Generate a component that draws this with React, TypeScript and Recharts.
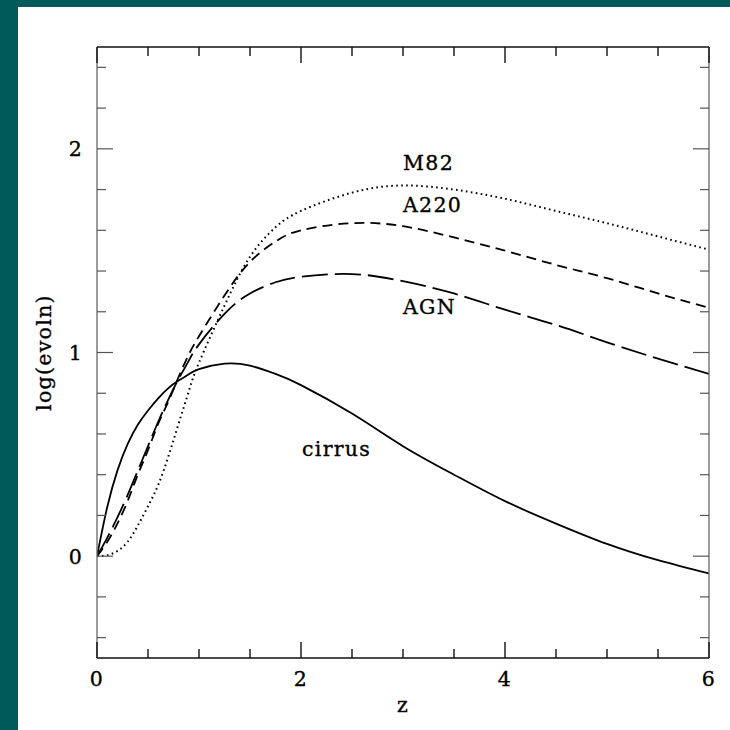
import React from 'react';
import { LineChart, Line, XAxis, YAxis, ReferenceDot } from 'recharts';

// Redshift grid shared by every evolution curve
const z = [0, 0.1, 0.2, 0.3, 0.4, 0.5, 0.6, 0.7, 0.8, 0.9, 1.0, 1.25, 1.5, 1.75, 2.0, 2.5, 3.0, 3.5, 4.0, 4.5, 5.0, 5.5, 6.0];

// log(evoln) for each template
const cirrus = [0, 0.24, 0.42, 0.55, 0.645, 0.715, 0.775, 0.825, 0.862, 0.893, 0.918, 0.945, 0.935, 0.895, 0.84, 0.70, 0.54, 0.40, 0.27, 0.16, 0.06, -0.02, -0.085];
const m82 = [0, 0.005, 0.025, 0.07, 0.15, 0.245, 0.35, 0.49, 0.65, 0.81, 0.95, 1.23, 1.47, 1.615, 1.695, 1.785, 1.82, 1.80, 1.755, 1.695, 1.635, 1.57, 1.505];
const a220 = [0, 0.07, 0.16, 0.27, 0.40, 0.52, 0.65, 0.76, 0.88, 0.99, 1.08, 1.28, 1.445, 1.545, 1.60, 1.635, 1.62, 1.565, 1.50, 1.43, 1.365, 1.29, 1.22];
const agn = [0, 0.09, 0.19, 0.30, 0.42, 0.54, 0.66, 0.77, 0.87, 0.96, 1.04, 1.19, 1.29, 1.345, 1.372, 1.385, 1.35, 1.29, 1.21, 1.135, 1.05, 0.97, 0.895];

// Axis ticks
const xTicks = [0, 0.5, 1, 1.5, 2, 2.5, 3, 3.5, 4, 4.5, 5, 5.5, 6];
const xLabels = [0, 2, 4, 6];
const yTicks = [-0.4, -0.2, 0, 0.2, 0.4, 0.6, 0.8, 1, 1.2, 1.4, 1.6, 1.8, 2, 2.2, 2.4];
const yLabels = [0, 1, 2];

// Curve name annotations: [text, z, log(evoln)]
const curveLabels: [string, number, number][] = [
  ['M82', 3.0, 1.897],
  ['A220', 3.0, 1.69],
  ['AGN', 3.0, 1.19],
  ['cirrus', 2.01, 0.49],
];

const rows = z.map((zv, i) => ({ z: zv, cirrus: cirrus[i], m82: m82[i], a220: a220[i], agn: agn[i] }));

const FONT = '"DejaVu Serif", "Liberation Serif", serif';
const textStyle = {
  fontFamily: FONT,
  fontSize: 20.5,
  letterSpacing: 1.3,
  fill: '#000',
  stroke: '#000',
  strokeWidth: 0.35,
};

const near = (a: number, list: number[]) => list.some((v) => Math.abs(v - a) < 1e-6);

type Side = 'bottom' | 'top' | 'left' | 'right';

function AxisTick(props: any) {
  const { x, y, payload, side } = props as { x: number; y: number; payload: { value: number }; side: Side };
  const v = payload.value;
  const horiz = side === 'bottom' || side === 'top';
  const major = horiz ? near(v, xLabels) : near(v, yLabels);
  const len = major ? 16 : 9;
  let line;
  if (side === 'bottom') line = <line x1={x} y1={y} x2={x} y2={y - len} />;
  else if (side === 'top') line = <line x1={x} y1={y} x2={x} y2={y + len} />;
  else if (side === 'left') line = <line x1={x} y1={y} x2={x + len} y2={y} />;
  else line = <line x1={x} y1={y} x2={x - len} y2={y} />;
  let label = null;
  if (side === 'bottom' && major) {
    label = (
      <text x={x} y={y + 21} dy="0.36em" textAnchor="middle" style={textStyle}>
        {String(v)}
      </text>
    );
  } else if (side === 'left' && major) {
    label = (
      <text x={x - 14} y={y} dy="0.36em" textAnchor="end" style={textStyle}>
        {String(v)}
      </text>
    );
  }
  return (
    <g>
      <g stroke={horiz ? '#111' : '#555'} strokeWidth={horiz ? 1.4 : 1.2}>{line}</g>
      {label}
    </g>
  );
}

const tickFor = (side: Side) => (p: any) => <AxisTick {...p} side={side} />;

export default function App() {
  return (
    <div style={{ position: 'fixed', left: 0, top: 0, width: 730, height: 730, background: '#005a5a' }}>
      <div style={{ position: 'absolute', left: 18, top: 7, width: 712, height: 723, background: '#fff' }} />
      <div style={{ position: 'absolute', left: 0, top: 0 }}>
        <LineChart width={730} height={730} data={rows} margin={{ left: 67, right: 11, top: 37, bottom: 42 }}>
          <XAxis
            xAxisId="b"
            dataKey="z"
            type="number"
            domain={[0, 6]}
            ticks={xTicks}
            interval={0}
            orientation="bottom"
            height={30}
            tickSize={0}
            tickMargin={0}
            tickLine={false}
            axisLine={{ stroke: '#111', strokeWidth: 1.6 }}
            tick={tickFor('bottom')}
            allowDataOverflow
            label={{
              content: (lp: any) => {
                const vb = lp.viewBox || {};
                return (
                  <text x={vb.x + vb.width / 2} y={712} textAnchor="middle" style={textStyle}>
                    z
                  </text>
                );
              },
            }}
          />
          <XAxis
            xAxisId="t"
            dataKey="z"
            type="number"
            domain={[0, 6]}
            ticks={xTicks}
            interval={0}
            orientation="top"
            height={10}
            tickSize={0}
            tickMargin={0}
            tickLine={false}
            axisLine={{ stroke: '#111', strokeWidth: 1.6 }}
            tick={tickFor('top')}
            allowDataOverflow
          />
          <YAxis
            yAxisId="l"
            type="number"
            domain={[-0.5, 2.5]}
            ticks={yTicks}
            interval={0}
            orientation="left"
            width={30}
            tickSize={0}
            tickMargin={0}
            tickLine={false}
            axisLine={{ stroke: '#666', strokeWidth: 1.3 }}
            tick={tickFor('left')}
            allowDataOverflow
            label={{
              content: (lp: any) => {
                const vb = lp.viewBox || {};
                const cy = vb.y + vb.height / 2;
                return (
                  <text
                    x={51}
                    y={cy}
                    transform={`rotate(-90 51 ${cy})`}
                    textAnchor="middle"
                    style={textStyle}
                  >
                    log(evoln)
                  </text>
                );
              },
            }}
          />
          <YAxis
            yAxisId="r"
            type="number"
            domain={[-0.5, 2.5]}
            ticks={yTicks}
            interval={0}
            orientation="right"
            width={10}
            tickSize={0}
            tickMargin={0}
            tickLine={false}
            axisLine={{ stroke: '#666', strokeWidth: 1.3 }}
            tick={tickFor('right')}
            allowDataOverflow
          />
          <Line xAxisId="b" yAxisId="l" type="natural" dataKey="cirrus" stroke="#000" strokeWidth={1.8} dot={false} isAnimationActive={false} />
          <Line xAxisId="b" yAxisId="l" type="natural" dataKey="m82" stroke="#000" strokeWidth={2} strokeDasharray="1.6 3.4" dot={false} isAnimationActive={false} />
          <Line xAxisId="b" yAxisId="l" type="natural" dataKey="a220" stroke="#000" strokeWidth={1.8} strokeDasharray="10 6" dot={false} isAnimationActive={false} />
          <Line xAxisId="b" yAxisId="l" type="natural" dataKey="agn" stroke="#000" strokeWidth={1.8} strokeDasharray="26 7" dot={false} isAnimationActive={false} />
          {curveLabels.map(([name, lx, ly]) => (
            <ReferenceDot
              key={name}
              xAxisId="b"
              yAxisId="l"
              x={lx}
              y={ly}
              r={0}
              shape={(p: any) => (
                <text x={p.cx} y={p.cy} textAnchor="start" style={textStyle}>
                  {name}
                </text>
              )}
            />
          ))}
        </LineChart>
      </div>
    </div>
  );
}
